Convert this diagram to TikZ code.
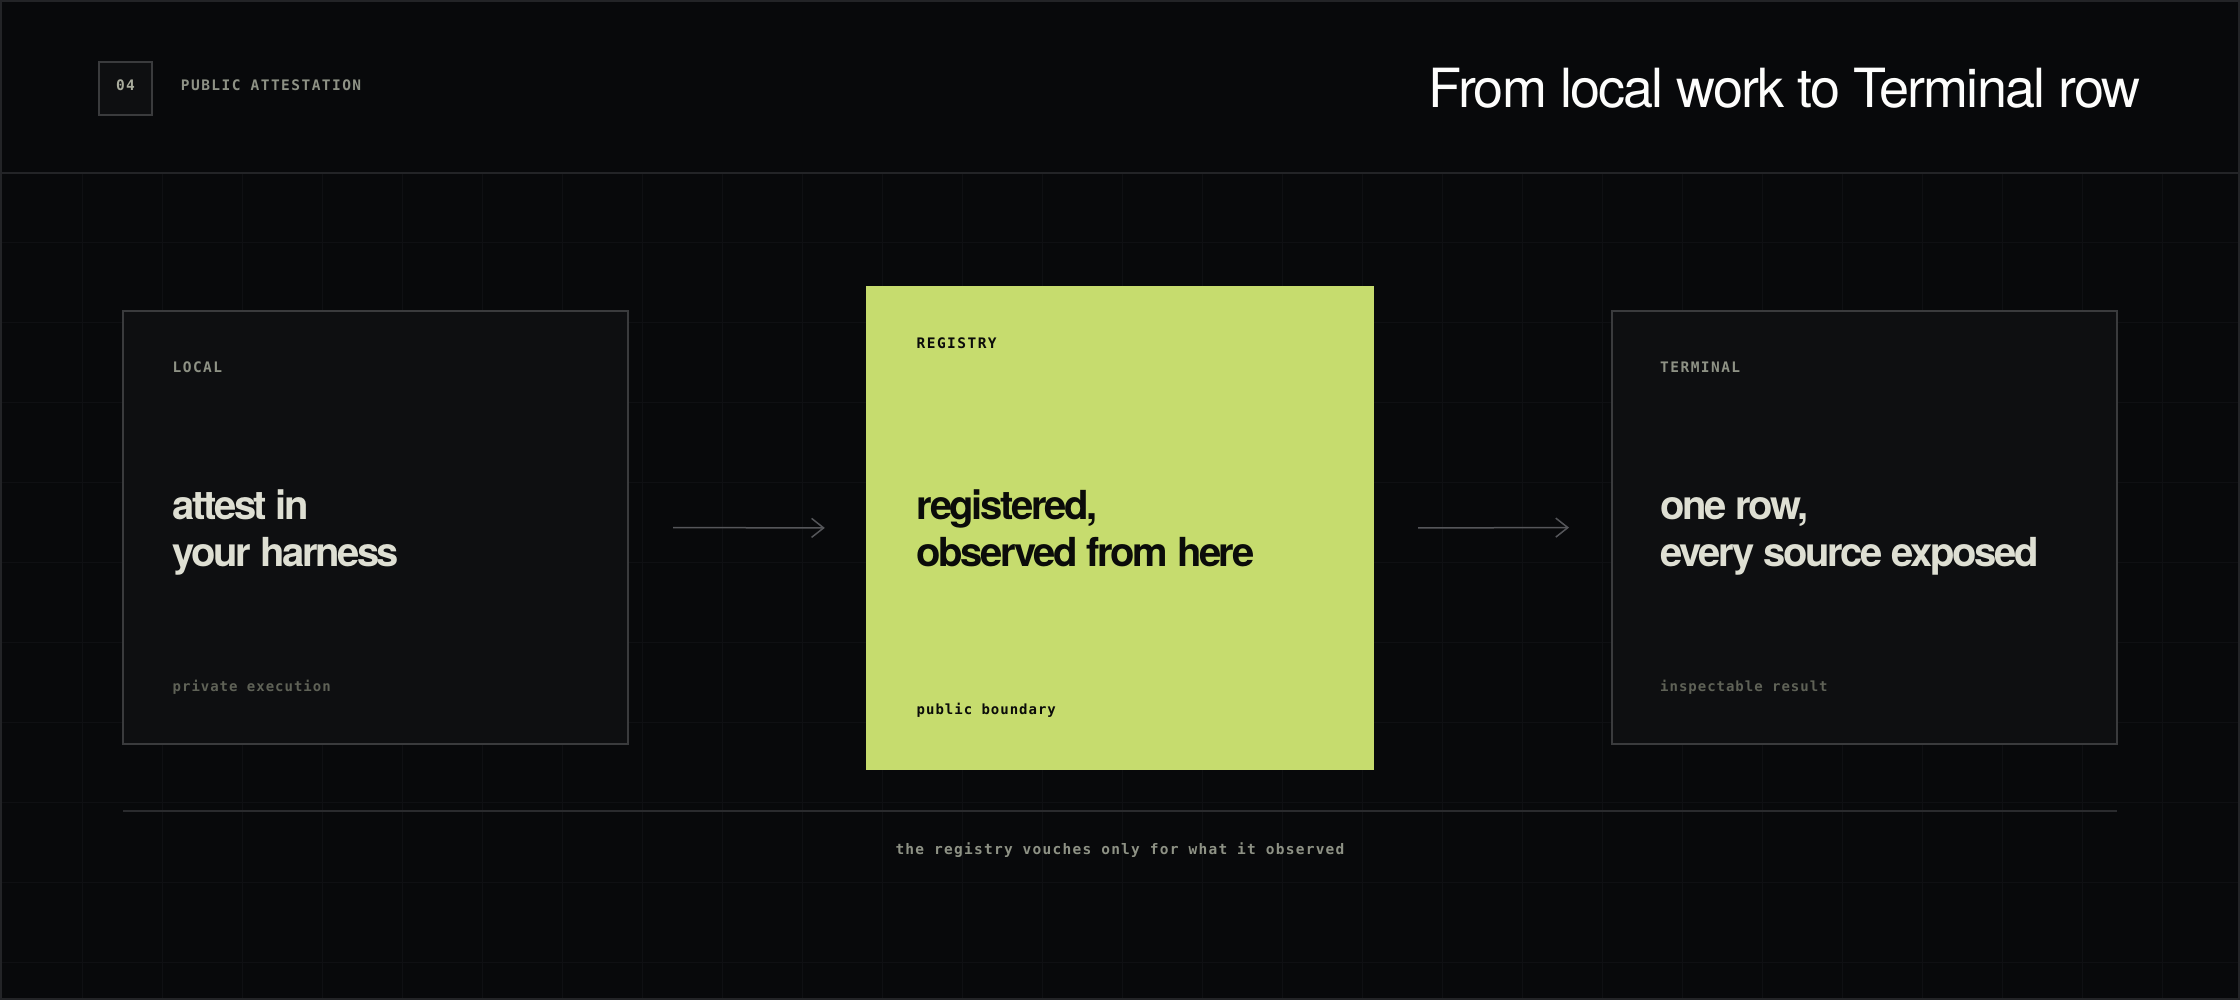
\documentclass[tikz,border=0pt]{standalone}
\usepackage{fontspec}
\setmainfont{TeX Gyre Heros}
\newfontfamily\titlefont{TeX Gyre Heros}[LetterSpace=-3.5]
\newfontfamily\headfont{TeX Gyre Heros}[LetterSpace=-6]
\newfontfamily\tagfont{DejaVu Sans Mono}[LetterSpace=10]
\newfontfamily\notefont{DejaVu Sans Mono}[LetterSpace=7]
\newfontfamily\captionfont{DejaVu Sans Mono}[LetterSpace=8.6]
\usepackage{xcolor}
\usetikzlibrary{arrows.meta}

\definecolor{pagebg}{HTML}{08090B}
\definecolor{framegray}{HTML}{232427}
\definecolor{gridgray}{HTML}{0F1013}
\definecolor{boxfill}{HTML}{0E0F11}
\definecolor{boxline}{HTML}{3A3B3D}
\definecolor{lime}{HTML}{C6DC6E}
\definecolor{ink}{HTML}{0B0C0A}
\definecolor{chalk}{HTML}{DEDFD3}
\definecolor{taggray}{HTML}{8E9285}
\definecolor{numgray}{HTML}{A9AC9D}
\definecolor{notegray}{HTML}{5F6257}
\definecolor{arrowgray}{HTML}{55565A}
\definecolor{rulegray}{HTML}{2A2B2E}

\begin{document}
\begin{tikzpicture}[x=1pt, y=-1pt,
    stage/.style={draw=boxline, fill=boxfill, line width=2pt, minimum width=505pt, minimum height=433pt, inner sep=0pt},
    badge/.style={draw=boxline, fill=boxfill, line width=2pt, minimum size=53pt, inner sep=0pt},
    tag/.style={font=\tagfont\bfseries\fontsize{14.5}{17}\selectfont, text=taggray, inner sep=0pt},
    note/.style={font=\notefont\bfseries\fontsize{14}{17}\selectfont, text=notegray, inner sep=0pt},
    head/.style={font=\headfont\bfseries\fontsize{40}{47}\selectfont, text=chalk, align=left, inner sep=0pt},
    flow/.style={draw=arrowgray, line width=1.5pt, -{Straight Barb[length=12pt, width=19pt]}},
    gridline/.style={draw=gridgray, line width=1pt}]
    \useasboundingbox (0,0) rectangle (2240,1000);
    \fill[pagebg] (0,0) rectangle (2240,1000);

    % Grid
    \foreach \gx in {82.5,162.5,...,2162.5}
        \draw[gridline] (\gx,174) -- (\gx,998);
    \foreach \gy in {242.5,322.5,...,962.5}
        \draw[gridline] (2,\gy) -- (2238,\gy);

    % Frame and header
    \draw[framegray, line width=2pt] (1,1) rectangle (2239,999);
    \draw[framegray, line width=2pt] (0,173) -- (2240,173);
    \node[badge] (num) at (125.5,88.5) {};
    \node[tag, text=numgray] (numtext) at (125.5,85) {04};
    \node[tag, anchor=base west] (section) at (180.7,90.3) {PUBLIC ATTESTATION};
    \node[font=\titlefont\fontsize{54}{60}\selectfont, text=white!94!chalk, inner sep=0pt, anchor=base east] (title) at (2141,108) {From local work to Terminal row};

    % Stages
    \node[stage] (local) at (375.5,527.5) {};
    \node[fill=lime, minimum width=508pt, minimum height=484pt, inner sep=0pt] (registry) at (1120,528) {};
    \node[stage] (terminal) at (1864.5,527.5) {};

    % Stage texts (heads sit on the baseline of their last line)
    \node[tag, anchor=base west] (localtag) at (172.5,372.3) {LOCAL};
    \node[head, anchor=base west] (localhead) at (172.5,566) {attest in\\your harness};
    \node[note, anchor=base west] (localnote) at (172.5,691) {private execution};

    \node[tag, text=ink, anchor=base west] (registrytag) at (916.5,348) {REGISTRY};
    \node[head, text=ink, anchor=base west] (registryhead) at (916.5,566) {registered,\\observed from here};
    \node[note, text=ink, anchor=base west] (registrynote) at (916.5,714.5) {public boundary};

    \node[tag, anchor=base west] (terminaltag) at (1660,372.3) {TERMINAL};
    \node[head, anchor=base west] (terminalhead) at (1660,566) {one row,\\every source exposed};
    \node[note, anchor=base west] (terminalnote) at (1660,691) {inspectable result};

    % Connect nodes
    \draw[flow, shorten <=44pt, shorten >=41pt] (local.east) -- (registry.west);
    \draw[flow, shorten <=44pt, shorten >=42pt] (registry.east) -- (terminal.west);

    % Footer
    \coordinate (ruleleft) at (123,811);
    \coordinate (ruleright) at (2117,811);
    \draw[rulegray, line width=2pt] (ruleleft) -- (ruleright);
    \node[note, text=taggray, font=\captionfont\bfseries\fontsize{14.5}{17}\selectfont, anchor=base] (caption) at (1120,854) {the registry vouches only for what it observed};
\end{tikzpicture}
\end{document}
